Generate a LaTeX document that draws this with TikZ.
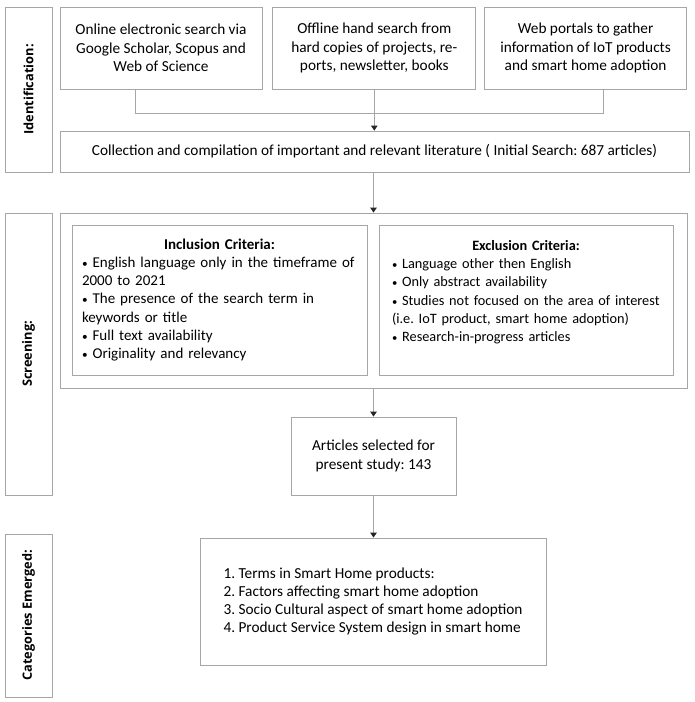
\documentclass[tikz,border=0pt]{standalone}
\usepackage{fontspec}
\setmainfont{Carlito}
\newfontfamily\labfont{Open Sans}
\usetikzlibrary{
arrows.meta,
positioning
}
\definecolor{linegray}{HTML}{A6A6A6}
\newcommand{\bul}{\scalebox{0.75}{\textbullet}\ }
\tikzset{
  box/.style={draw=linegray, line width=0.8pt, align=center, inner sep=0pt,
    font=\frenchspacing\fontsize{15.3}{18.3}\selectfont},
  crit/.style={box, align=left, minimum height=150pt,
    font=\frenchspacing\fontsize{15}{18.3}\selectfont},
  lab/.style={draw=linegray, line width=0.8pt, rotate=90, minimum height=47pt,
    inner sep=0pt, font=\labfont\bfseries\fontsize{12.8}{15}\selectfont},
  link/.style={draw=linegray, line width=0.8pt},
  arr/.style={link, -{Triangle[length=5pt,width=6.5pt,color=black!85]}}
}

\begin{document}
\begin{tikzpicture}[x=1pt,y=-1pt]
    \useasboundingbox (0,0) rectangle (694,702);

    % Identification
    \node[lab, minimum width=165pt] (IdLab) at (28.5,89.5) {Identification:};
    \node[box, minimum width=202pt, minimum height=82pt] (Src1) at (161,48)
      {Online electronic search via\\Google Scholar, Scopus and\\Web of Science};
    \node[box, minimum width=203pt, minimum height=82pt, right = 10pt of Src1] (Src2)
      {Offline hand search from\\hard copies of projects, re-\\ports, newsletter, books};
    \node[box, minimum width=202pt, minimum height=82pt, right = 8pt of Src2] (Src3)
      {Web portals to gather\\information of IoT products\\and smart home adoption};
    \node[box, minimum width=629pt, minimum height=41pt] (Coll) at (374.5,151.5)
      {Collection and compilation of important and relevant literature ( Initial Search: 687 articles)};
    \coordinate (J) at (373,113);
    \draw[link] ([xshift=-26pt]Src1.south) |- (J);
    \draw[link] ([xshift=18pt]Src3.south) |- (J);
    \draw[arr] (Src2.south) -- (Src2.south |- Coll.north);

    % Screening
    \node[lab, minimum width=282pt] (ScLab) at (28.5,354) {Screening:};
    \node[box, minimum width=627pt, minimum height=175pt] (Scr) at (373.5,300.5) {};
    \node[crit, inner xsep=10pt, text width=275pt] (Inc) at (219.5,300)
      {{\centering\bfseries Inclusion Criteria:\par}
       \mbox{\bul English language only in the timeframe of}\\
       2000 to 2021\\
       \bul The presence of the search term in\\
       keywords or title\\
       \bul Full text availability\\
       \bul Originality and relevancy};
    \node[crit, inner xsep=13pt, text width=268pt,
      font=\frenchspacing\fontsize{14.3}{18.3}\selectfont] (Exc) at (526,300)
      {{\centering\bfseries Exclusion Criteria:\par}
       \bul Language other then English\\
       \bul Only abstract availability\\
       \mbox{\bul Studies not focused on the area of interest}\\
       (i.e. IoT product, smart home adoption)\\
       \bul Research-in-progress articles\\
       \mbox{}};
    \draw[arr] (Coll.south -| Scr.north) -- (Scr.north);
    \node[box, minimum width=165pt, minimum height=78pt] (Sel) at (373.5,456)
      {Articles selected for\\present study: 143};
    \draw[arr] (Scr.south) -- (Sel.north);

    % Categories
    \node[box, align=left, minimum width=346pt, minimum height=127pt,
      font=\frenchspacing\fontsize{15.3}{18.3}\selectfont] (Cat) at (373,601.5)
      {1. Terms in Smart Home products:\\
       2. Factors affecting smart home adoption\\
       3. Socio Cultural aspect of smart home adoption\\
       4. Product Service System design in smart home};
    \node[lab, minimum width=163pt] (CatLab) at (28.5,615.5) {Categories Emerged:};
    \draw[arr] (Sel.south) -- (Sel.south |- Cat.north);
\end{tikzpicture}
\end{document}
